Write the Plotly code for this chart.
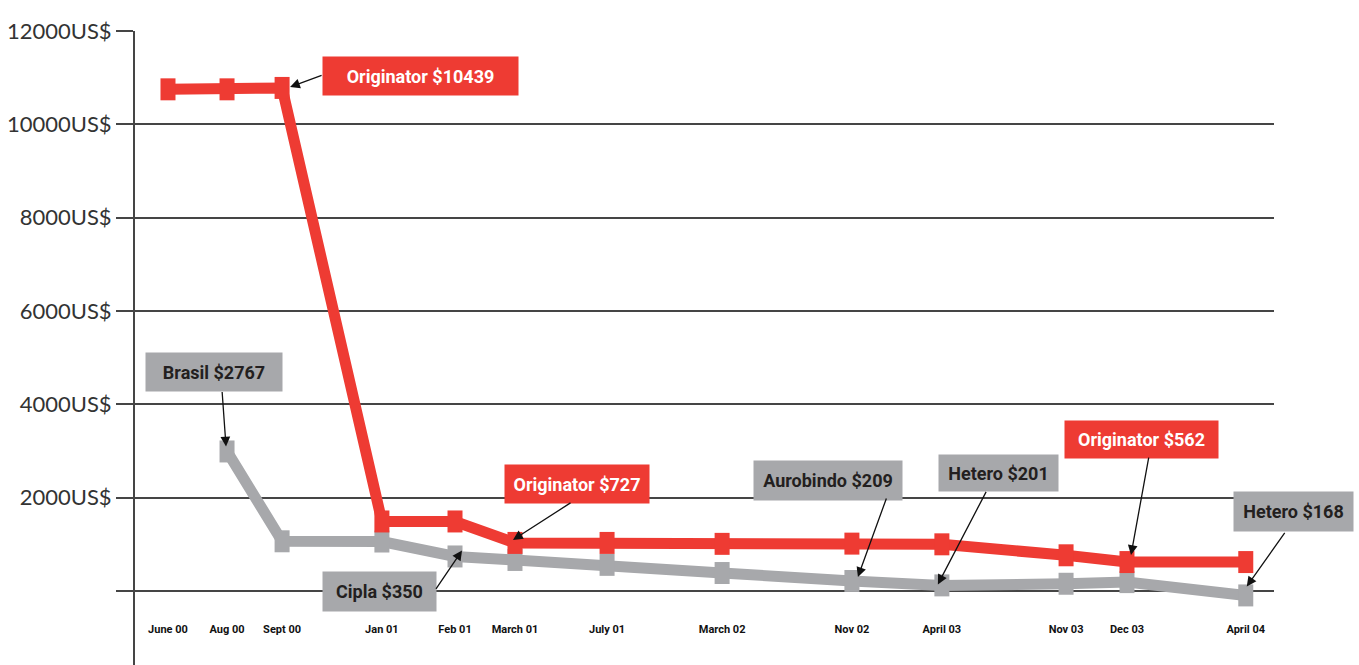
import plotly.graph_objects as go

# ---------------- data ----------------
categories = ["June 00", "Aug 00", "Sept 00", "Jan 01", "Feb 01", "March 01", "July 01",
              "March 02", "Nov 02", "April 03", "Nov 03", "Dec 03", "April 04"]
# uneven horizontal spacing of the categories, as in the original print
x_spacing = [0, 2.52, 4.87, 9.13, 12.25, 14.81, 18.74, 23.65, 29.19, 33.03, 38.33, 40.93, 46.0]
originator = [10750, 10750, 10780, 1490, 1490, 1030, 1030, 1010, 1015, 1000, 765, 620, 620]
generic = [None, 2990, 1065, 1060, 740, 665, 560, 385, 215, 120, 155, 190, -95]

y_ticks = [0, 2000, 4000, 6000, 8000, 10000, 12000]
y_tick_labels = ["", "2000US$", "4000US$", "6000US$", "8000US$", "10000US$", "12000US$"]

callout_texts = ["Originator $10439", "Brasil $2767", "Cipla $350", "Originator $727",
                 "Aurobindo $209", "Hetero $201", "Originator $562", "Hetero $168"]
callout_series = ["originator", "generic", "generic", "originator",
                  "generic", "generic", "originator", "generic"]
callout_index = [2, 1, 4, 5, 8, 9, 11, 12]

# ---------------- style ----------------
RED = "#EE3B33"
GRAY = "#A7A8AB"
GRID = "#454545"
BOX_FONT = "Liberation Sans Narrow, Roboto, Arial, sans-serif"

# box: (xshift, yshift, width, height) ; arrow: (tip dx, tip dy, ax, ay)
box_style = [(138, 12, 195, 38), (-13, 79, 136, 38), (-76, -35, 113, 39), (62, 59, 144, 38),
             (-24, 100, 148, 39), (57, 112, 119, 36), (15, 123, 153, 37), (48, 84, 119, 39)]
arrow_style = [(8, 1, 33, -12), (-1, 5, -4, -56), (7, 6, -27, 40), (-2, 3, 59, -38),
               (6, 4, 29, -80), (-4, 1, 49, -94), (4, 7, 18, -99), (1, 9, 39, -55)]

fig = go.Figure()

for name, vals, col in [("Generics", generic, GRAY), ("Originator", originator, RED)]:
    fig.add_trace(go.Scatter(
        x=x_spacing, y=vals, name=name, mode="lines+markers",
        line=dict(color=col, width=11),
        marker=dict(symbol="line-ns", size=15.7, color=col,
                    line=dict(color=col, width=15)),
        connectgaps=False, hoverinfo="x+y", cliponaxis=False,
    ))

series_map = {"originator": originator, "generic": generic}
annotations = []
for txt, ser, idx, bs, ars in zip(callout_texts, callout_series, callout_index, box_style, arrow_style):
    vals = series_map[ser]
    px_x = x_spacing[idx]
    px_y = vals[idx]
    is_red = ser == "originator"
    annotations.append(dict(
        x=px_x, y=px_y, xref="x", yref="y", text=txt, showarrow=False,
        xshift=bs[0], yshift=bs[1], width=bs[2], height=bs[3],
        bgcolor=RED if is_red else GRAY, borderpad=0, align="center", valign="middle",
        font=dict(family=BOX_FONT, size=18, color="white" if is_red else "#231F20", weight="bold"),
    ))
    annotations.append(dict(
        x=px_x, y=px_y, xref="x", yref="y", text="", showarrow=True,
        xshift=ars[0], yshift=ars[1], ax=ars[2], ay=ars[3],
        arrowhead=2, arrowsize=1.5, arrowwidth=1.3, arrowcolor="#111111",
    ))

fig.update_layout(
    width=1359, height=665,
    margin=dict(l=135, r=85, t=31, b=0),
    paper_bgcolor="white", plot_bgcolor="white",
    showlegend=False,
    annotations=annotations,
    xaxis=dict(
        range=[-1.408, 47.205], showgrid=False, zeroline=False, showline=False,
        tickmode="array", tickvals=x_spacing, ticktext=categories, ticks="",
        anchor="free", position=0.07, automargin=False,
        tickfont=dict(family=BOX_FONT, size=11, color="#111111", weight="bold"),
    ),
    yaxis=dict(
        range=[-1586, 12000], tickmode="array", tickvals=y_ticks, ticktext=y_tick_labels,
        showgrid=True, gridcolor=GRID, gridwidth=2, zeroline=False,
        showline=True, linecolor=GRID, linewidth=2,
        ticks="outside", ticklen=17, tickwidth=2, tickcolor=GRID,
        tickfont=dict(family="Lato, sans-serif", size=22, color="#333333"),
        automargin=False,
    ),
)

fig.write_html("out.html")
